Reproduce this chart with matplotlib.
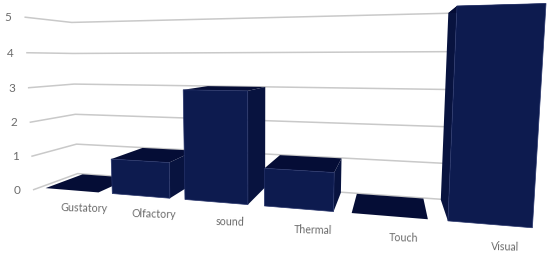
import numpy as np
from matplotlib import pyplot as plt
from matplotlib.patches import Polygon

categories = ['Gustatory', 'Olfactory', 'sound', 'Thermal', 'Touch', 'Visual']
values = [0, 1, 3, 1, 0, 5]
y_ticks = [0, 1, 2, 3, 4, 5]

# camera: chart coords (category, value, depth) -> pixels, fitted on corners seen in the picture
cal = [
    (0.1, 0, 0, 46, 188.5), (0.9, 0, 0, 99, 193), (0.1, 0, 1, 82, 174),
    (1.1, 1, 0, 111, 159), (1.9, 1, 0, 170, 163), (1.1, 0, 0, 112, 193),
    (1.9, 0, 0, 169, 197), (1.1, 1, 1, 143, 148),
    (2.1, 3, 0, 183, 89), (2.9, 3, 0, 248, 92), (2.1, 0, 0, 184, 200),
    (2.9, 0, 0, 249, 204), (2.9, 3, 1, 265, 87), (2.9, 0, 1, 265, 188),
    (3.1, 1, 0, 264, 168), (3.1, 0, 0, 264, 206),
    (3.9, 1, 0, 335, 173), (3.9, 0, 0, 333, 211), (3.9, 1, 1, 342, 159),
    (3.9, 0, 1, 341, 192), (3.1, 1, 1, 280, 155),
    (4.1, 0, 0, 352, 214), (4.9, 0, 0, 428, 220), (4.1, 0, 1, 357, 194),
    (4.9, 0, 1, 423, 199),
    (5.1, 5, 0, 457, 6), (5.9, 5, 0, 546, 3), (5.9, 0, 0, 532, 228),
    (5.1, 0, 0, 448, 220), (5.1, 5, 1, 448, 13), (5.1, 0, 1, 441, 199),
]

rows = []
rhs = []
for x, y, z, u, v in cal:
    rows.append([x, y, z, 1, 0, 0, 0, 0, -u * x, -u * y, -u * z])
    rows.append([0, 0, 0, 0, x, y, z, 1, -v * x, -v * y, -v * z])
    rhs += [u, v]
cam = np.linalg.lstsq(np.array(rows, float), np.array(rhs, float), rcond=None)[0]
cam = np.append(cam, 1).reshape(3, 4)


def project(x, y, z):
    p = cam @ np.array([x, y, z, 1.0])
    return p[0] / p[2], p[1] / p[2]


front_col = '#0d1b4f'
side_col = '#08133f'
top_col = '#050d36'
edge_col = '#26336a'
grid_col = '#c9c9c9'
text_col = '#6b6b6b'

fig = plt.figure(figsize=(5.5, 2.54), dpi=100)
ax = fig.add_axes([0, 0, 1, 1])
ax.set_xlim(0, 550)
ax.set_ylim(254, 0)
ax.axis('off')

# gridlines run along the left wall then the back wall
z_near = -0.13
z_far = 1.03
for t in y_ticks:
    pts = [project(0, t, z_near), project(0, t, z_far), project(6, t, z_far)]
    ax.plot(*zip(*pts), color=grid_col, lw=1.1, zorder=1)
    px, py = project(0, t, z_near)
    ax.text(px - 17, py + 0.5, str(t), color=text_col, fontsize=8.5, ha='center',
            va='center', family='Lato')

for i, (name, val) in enumerate(zip(categories, values)):
    x0, x1 = i + 0.1, i + 0.9
    zo = 2 + i
    if val > 0:
        # side wall: the right one left of the camera, the left one for Visual
        sx = x0 if i == 5 else x1
        side = [project(sx, 0, 0), project(sx, val, 0), project(sx, val, 1), project(sx, 0, 1)]
        ax.add_patch(Polygon(side, fc=side_col, ec='none', zorder=zo))
    top = [project(x0, val, 0), project(x1, val, 0), project(x1, val, 1), project(x0, val, 1)]
    ax.add_patch(Polygon(top, fc=top_col, ec='none', zorder=zo))
    if val > 0:
        front = [project(x0, 0, 0), project(x1, 0, 0), project(x1, val, 0), project(x0, val, 0)]
        ax.add_patch(Polygon(front, fc=front_col, ec=edge_col, lw=0.5, zorder=zo + 0.5))
    lx, ly = project(i + 0.5, 0, 0)
    ax.text(lx + 13 + i * 0.5, ly + 17.5 + i * 1.1, name, color=text_col, fontsize=7.7,
            ha='center', va='center', rotation=-1.5, family='Lato', zorder=10)

fig.savefig('out.png', dpi=100)
